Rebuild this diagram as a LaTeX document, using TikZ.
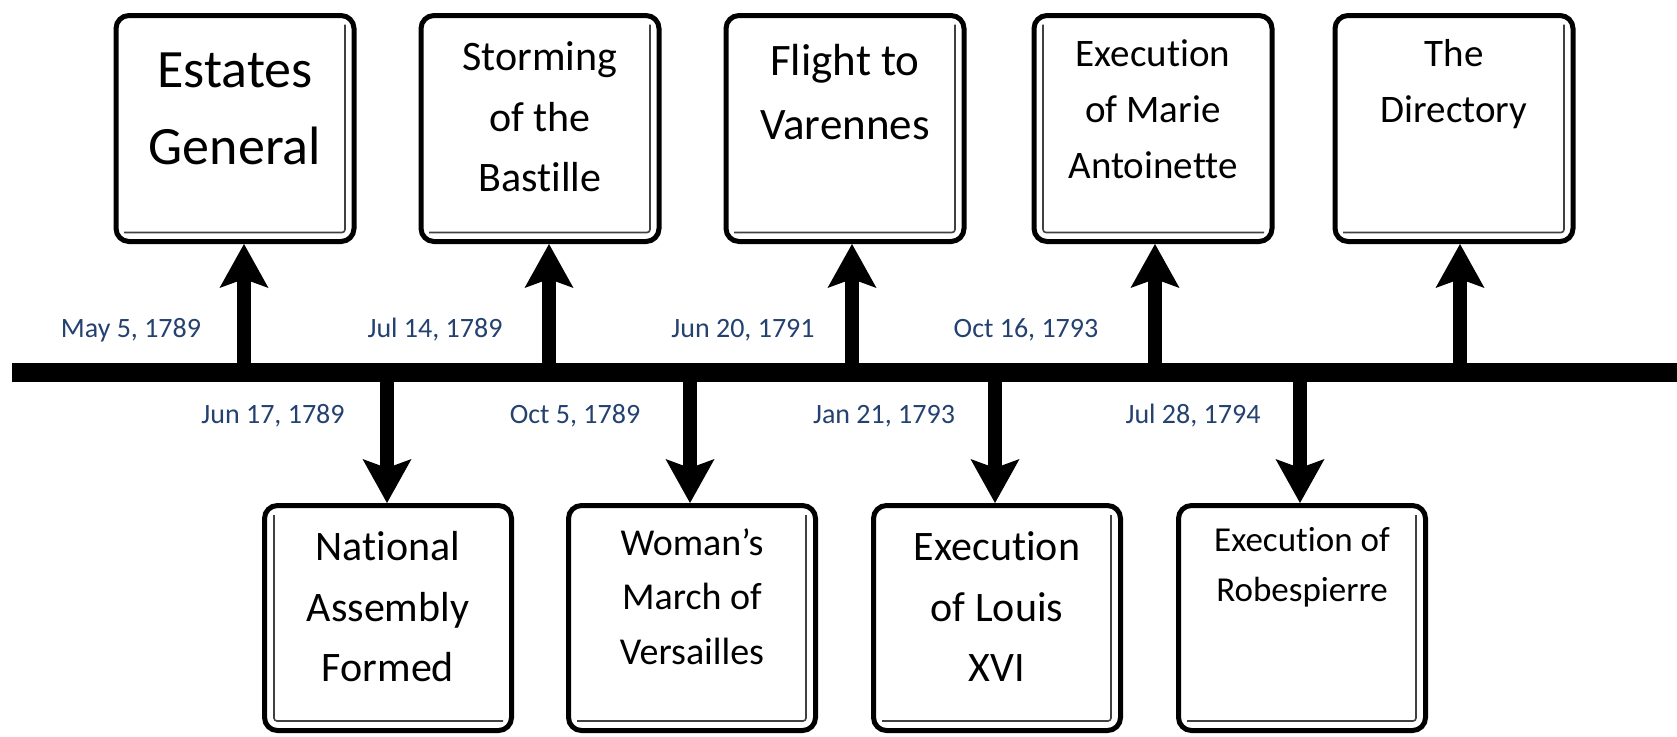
\documentclass[tikz,border=0pt]{standalone}
\usepackage{fontspec}
\setmainfont{Carlito}[Ligatures=CommonOff]
\usetikzlibrary{arrows.meta,calc}
\definecolor{datecolor}{HTML}{24416F}
\tikzset{
  timeline/.style={line width=19pt},
  eventarrow/.style={line width=14pt, -{Stealth[length=44pt, width=49pt, inset=9pt, line width=0pt]}},
  eventbox/.style={draw, line width=5pt, rounded corners=13pt, inner sep=0pt},
  innerrule/.style={line width=1.6pt, black!75, rounded corners=3pt},
  eventtext/.style={anchor=base, inner sep=0pt},
  datetext/.style={anchor=base, inner sep=0pt, text=datecolor, font=\fontsize{28}{32}\selectfont},
}
\begin{document}
\begin{tikzpicture}[x=1pt, y=-1pt]
  \useasboundingbox (0,0) rectangle (1677,736);
  % the time line
  \coordinate (tl_start) at (12,372);
  \coordinate (tl_end) at (1677,372);
  \draw[timeline] (tl_start) -- (tl_end);
  % events above the line
  \foreach \bx/\ax/\fs/\sd/\txt [count=\i] in {
      235/244/54/1/{Estates\\General},
      540/549/42/1/{Storming\\of the\\Bastille},
      845/852/45/1/{Flight to\\Varennes},
      1153/1155/39/-1/{Execution\\of Marie\\Antoinette},
      1454/1460/39/1/{The\\Directory}}
  {
    \node[eventbox, minimum width=238pt, minimum height=226pt] (above_\i) at (\bx,128.5) {};
    \pgfmathsetmacro{\baseoff}{1.38*\fs}
    \pgfmathsetmacro{\lineskp}{1.43*\fs}
    \node[eventtext, font=\fontsize{\fs}{\lineskp}\selectfont] (abovetext_\i) at ([yshift=-\baseoff pt]above_\i.north) {\parbox[t]{230pt}{\centering\txt}};
    \draw[innerrule] ($(above_\i)+(\sd*110,-104)$) -- ($(above_\i)+(\sd*110,104)$) -- ($(above_\i)+(\sd*-111,104)$);
    \coordinate (upfoot_\i) at (\ax,372);
    \draw[eventarrow] (upfoot_\i) -- (upfoot_\i |- above_\i.south);
  }
  % events below the line
  \foreach \bx/\ax/\fs/\sd/\txt [count=\i] in {
      388/387/42/-1/{National\\Assembly\\Formed},
      692/690/38/1/{Woman’s\\March of\\Versailles},
      997/995/42/1/{Execution\\of Louis\\XVI},
      1302/1300/35/1/{Execution of\\Robespierre}}
  {
    \node[eventbox, minimum width=247pt, minimum height=225pt] (below_\i) at (\bx,618) {};
    \pgfmathsetmacro{\baseoff}{1.38*\fs}
    \pgfmathsetmacro{\lineskp}{1.43*\fs}
    \node[eventtext, font=\fontsize{\fs}{\lineskp}\selectfont] (belowtext_\i) at ([yshift=-\baseoff pt]below_\i.north) {\parbox[t]{230pt}{\centering\txt}};
    \draw[innerrule] ($(below_\i)+(\sd*114,-103)$) -- ($(below_\i)+(\sd*114,103)$) -- ($(below_\i)+(\sd*-115,103)$);
    \coordinate (downfoot_\i) at (\ax,372);
    \draw[eventarrow] (downfoot_\i) -- (downfoot_\i |- below_\i.north);
  }
  % dates
  \foreach \dx/\when [count=\i] in {131/{May 5, 1789}, 435/{Jul 14, 1789}, 743/{Jun 20, 1791}, 1026/{Oct 16, 1793}}
    \node[datetext] (abovedate_\i) at (\dx,337) {\when};
  \foreach \dx/\when [count=\i] in {273/{Jun 17, 1789}, 575/{Oct 5, 1789}, 884/{Jan 21, 1793}, 1193/{Jul 28, 1794}}
    \node[datetext] (belowdate_\i) at (\dx,423) {\when};
\end{tikzpicture}
\end{document}
